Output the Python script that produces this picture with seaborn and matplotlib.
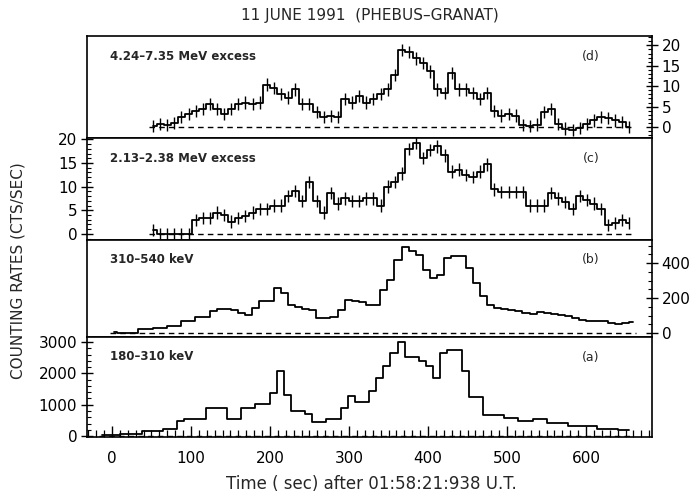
import numpy as np
import pandas as pd
import matplotlib
matplotlib.use("Agg")
import matplotlib.pyplot as plt
import seaborn as sns
from matplotlib.ticker import MultipleLocator, FixedLocator

sns.set_theme(style="white")
plt.rcParams['font.family'] = ['DejaVu Sans']
plt.rcParams.update({
    "xtick.bottom": True, "xtick.minor.bottom": True, "xtick.minor.visible": True,
    "xtick.minor.size": 5, "xtick.major.size": 8, "xtick.direction": "in",
    "ytick.minor.size": 3, "ytick.major.size": 8,
})

# ---------------- data ----------------
BIN = 9.0  # s, time resolution

# (d) 4.24-7.35 MeV excess
d_start = 52.0
d_vals = [0.3, 0.8, 0.5, 1.0, 2.4, 3.2, 4.0, 4.4, 5.6, 4.4, 3.2, 4.4, 5.6, 6.0, 5.6, 6.0,
          10.4, 9.6, 8.0, 7.2, 9.2, 5.6, 5.6, 3.6, 2.4, 2.6, 2.4, 6.8, 6.0, 7.6, 6.0, 6.8,
          8.0, 9.2, 12.8, 18.8, 18.4, 16.8, 15.6, 13.6, 9.2, 8.4, 13.2, 9.2, 9.2, 8.4, 6.8,
          8.4, 4.0, 2.8, 3.2, 2.8, 0.4, 0.2, 0.6, 3.6, 4.4, 0.8, -0.4, -0.8, -0.2, 0.8, 1.6,
          2.4, 2.2, 1.6, 1.2, 0.0]
d_err = 1.5

# (c) 2.13-2.38 MeV excess
c_start = 52.0
c_vals = [0.8, 0, 0, 0, 0, 0, 3.0, 3.4, 3.4, 4.5, 4.0, 2.6, 3.4, 3.8, 4.5, 5.3, 5.3, 6.0,
          6.0, 8.0, 9.0, 7.0, 11.0, 7.0, 4.5, 8.7, 6.4, 7.5, 7.0, 7.0, 7.5, 7.5, 6.0, 10.0,
          11.0, 12.8, 18.0, 19.2, 16.0, 17.7, 18.5, 16.6, 13.2, 13.6, 12.5, 12.0, 13.2, 14.7,
          9.4, 8.8, 8.8, 8.8, 8.8, 6.0, 6.0, 6.0, 8.7, 7.5, 6.8, 5.3, 8.0, 7.2, 6.4, 5.3,
          1.9, 2.3, 3.0, 2.3]
c_err = 1.3

# (b) 310-540 keV
b_start = 2.0
b_vals = [4, 2, 0, 0, 23, 23, 29, 29, 42, 42, 67, 72, 95, 95, 124, 137, 137, 130, 114, 105,
          143, 181, 185, 257, 229, 162, 152, 140, 133, 86, 84, 91, 133, 190, 181, 176, 162,
          162, 248, 305, 419, 491, 472, 448, 362, 314, 333, 429, 438, 438, 371, 286, 210, 162,
          143, 139, 135, 124, 114, 110, 118, 114, 110, 105, 100, 86, 76, 72, 67, 67, 57, 55,
          60, 62]

# (a) 180-310 keV
a_start = -12.0
a_vals = [30, 30, 30, 70, 70, 70, 150, 150, 150, 240, 240, 465, 550, 550, 550, 900, 900, 900,
          550, 550, 880, 880, 1030, 1030, 1375, 2090, 1310, 800, 800, 690, 445, 445, 550, 550,
          880, 1290, 1085, 1085, 1450, 1860, 2220, 2660, 3000, 2530, 2530, 2410, 2220, 1860,
          2640, 2740, 2740, 2070, 1240, 1240, 670, 670, 670, 570, 570, 465, 465, 550, 550, 415,
          415, 415, 310, 310, 310, 310, 240, 240, 240, 205, 205]

panel_labels = ["4.24\u20137.35 MeV excess", "2.13\u20132.38 MeV excess", "310\u2013540 keV", "180\u2013310 keV"]
panel_tags = ["(d)", "(c)", "(b)", "(a)"]
x_ticks = [0, 100, 200, 300, 400, 500, 600]


def frame(start, vals):
    t = start + BIN * np.arange(len(vals))
    return pd.DataFrame({"t": t, "v": np.asarray(vals, dtype=float)})


dfs = [frame(d_start, d_vals), frame(c_start, c_vals), frame(b_start, b_vals), frame(a_start, a_vals)]
errs = [d_err, c_err, None, None]

# ---------------- figure ----------------
fig = plt.figure(figsize=(6.95, 4.97), dpi=100)
gs = fig.add_gridspec(4, 1, left=87/695, right=652/695, top=1-36/497, bottom=1-437/497,
                      hspace=0, height_ratios=[102, 102, 97, 100])
axes = [fig.add_subplot(gs[i]) for i in range(4)]

ylims = [(-2.7, 22.3), (-1.3, 20.3), (-22, 532), (-30, 3160)]
for i, (ax, df) in enumerate(zip(axes, dfs)):
    sns.lineplot(data=df, x="t", y="v", ax=ax, color="black", lw=1.3,
                 drawstyle="steps-mid", estimator=None, legend=False)
    if errs[i] is not None:
        ax.errorbar(df["t"], df["v"], yerr=errs[i], fmt="none", ecolor="black", elinewidth=1.0)
    ax.hlines(0, df["t"].iloc[0] - BIN / 2, df["t"].iloc[-1] + BIN / 2, colors="black",
              linestyles=(0, (4, 3)), lw=1.0)
    ax.set_ylim(*ylims[i])
    ax.set_xlim(-31.6, 683.5)
    ax.set_xlabel("")
    ax.set_ylabel("")
    for s in ax.spines.values():
        s.set_color("black")
        s.set_linewidth(1.2)
    ax.text(0.04, 0.80, panel_labels[i], transform=ax.transAxes, fontsize=8.5,
            fontweight="bold", ha="left", va="center")
    ax.text(0.892, 0.80, panel_tags[i], transform=ax.transAxes, fontsize=9,
            ha="center", va="center")
    if i < 3:
        ax.set_xticks([])
        ax.set_xticks([], minor=True)

# y ticks
axd, axc, axb, axa = axes
for ax, side in zip(axes, ["right", "left", "right", "left"]):
    if side == "right":
        ax.yaxis.tick_right()
        ax.tick_params(axis="y", which="both", right=True, left=False, labelright=True, labelleft=False)
    else:
        ax.tick_params(axis="y", which="both", left=True, right=False, labelleft=True, labelright=False)
axd.yaxis.set_major_locator(FixedLocator([0, 5, 10, 15, 20]))
axd.yaxis.set_minor_locator(MultipleLocator(1))
axc.yaxis.set_major_locator(FixedLocator([0, 5, 10, 15, 20]))
axc.yaxis.set_minor_locator(MultipleLocator(1))
axb.yaxis.set_major_locator(FixedLocator([0, 200, 400]))
axb.yaxis.set_minor_locator(MultipleLocator(50))
axa.yaxis.set_major_locator(FixedLocator([0, 1000, 2000, 3000]))
axa.yaxis.set_minor_locator(MultipleLocator(200))
for ax in axes:
    ax.tick_params(axis="y", which="major", direction="inout", length=8, width=1.0,
                   labelsize=11, colors="black", pad=3)
    ax.tick_params(axis="y", which="minor", direction="in", length=3, width=0.8, colors="black")
axa.xaxis.set_major_locator(FixedLocator(x_ticks))
axa.xaxis.set_minor_locator(MultipleLocator(10))
axa.tick_params(axis="x", which="major", bottom=True, direction="in", length=8, width=1.0,
                labelsize=11, pad=10, colors="black")
axa.tick_params(axis="x", which="minor", bottom=True, direction="in", length=5, width=0.9,
                colors="black")
axa.set_xticklabels([str(v) for v in x_ticks])

fig.text(0.532, 0.968, "11 JUNE 1991  (PHEBUS\u2013GRANAT)", ha="center", va="center", fontsize=11)
fig.text(0.535, 0.027, "Time ( sec) after 01:58:21:938 U.T.", ha="center", va="center", fontsize=12)
fig.text(0.026, 0.455, "COUNTING RATES (CTS/SEC)", rotation=90, ha="center", va="center", fontsize=11)

fig.savefig("out.png", dpi=100)
